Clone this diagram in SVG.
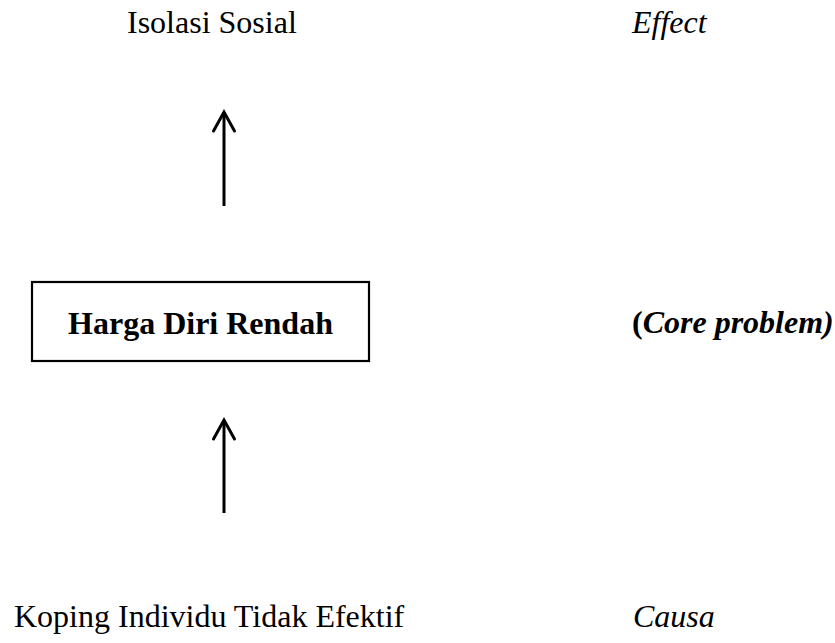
<svg xmlns="http://www.w3.org/2000/svg" width="835" height="643" viewBox="0 0 835 643">
<defs>
<style>
.t{font-family:"Liberation Serif","Times New Roman",serif;font-size:32px;fill:#000}
.b{font-weight:bold}
.i{font-style:italic}
.conn{stroke:#000;stroke-width:3;fill:none}
.head{stroke:#000;stroke-width:3;fill:none;stroke-linecap:round;stroke-linejoin:miter}
</style>
</defs>
<rect width="835" height="643" fill="#fff"/>
<g id="effect-node">
<text class="t" x="127" y="33">Isolasi Sosial</text>
</g>
<g id="effect-label">
<text class="t i" x="632" y="33">Effect</text>
</g>
<g id="core-node">
<rect x="32" y="282" width="337" height="79" fill="#fff" stroke="#000" stroke-width="2.2"/>
<text class="t b" x="200.5" y="334" text-anchor="middle">Harga Diri Rendah</text>
</g>
<g id="core-label">
<text class="t b" x="632" y="333">(<tspan class="i">Core problem)</tspan></text>
</g>
<g id="cause-node">
<text class="t" x="14" y="627">Koping Individu Tidak Efektif</text>
</g>
<g id="cause-label">
<text class="t i" x="633" y="627">Causa</text>
</g>
<g id="connectors">
<line class="conn" x1="224" y1="206" x2="224" y2="112"/>
<polyline class="head" points="213.5,131 224,112 234.5,131"/>
<line class="conn" x1="224" y1="513" x2="224" y2="420"/>
<polyline class="head" points="213.5,439 224,420 234.5,439"/>
</g>
</svg>
